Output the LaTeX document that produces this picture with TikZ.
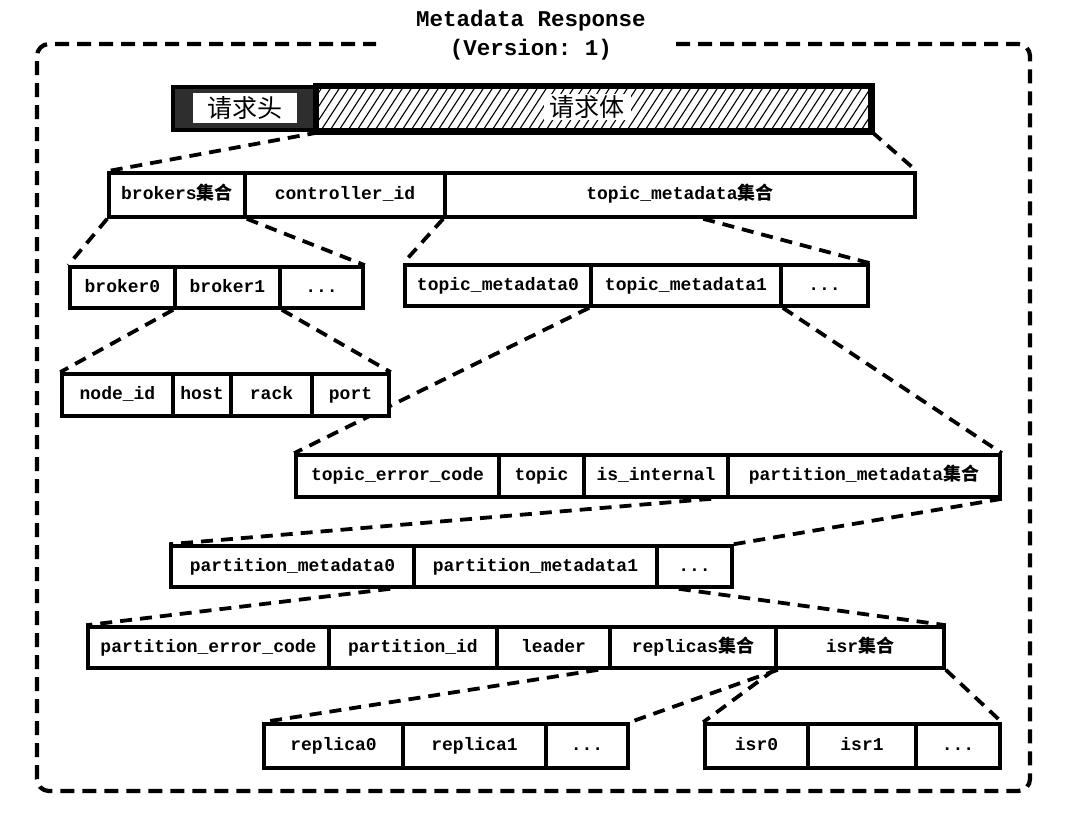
\documentclass[tikz,border=0pt]{standalone}
\usepackage{fontspec}
\setmonofont{Liberation Mono}
\newfontfamily\cjk{Noto Sans CJK SC}
\usetikzlibrary{backgrounds,calc}
\newcommand\zh[1]{{\cjk #1}}
\newcommand\dotsx{{.}{.}{.}}
\begin{document}
\begin{tikzpicture}[x=1pt,y=-1pt,
  cell/.style={draw, line width=3.6pt, fill=white, minimum height=42pt, inner sep=0pt,
    text height=12.5pt, text depth=3.5pt,
    font=\fontsize{18}{20}\selectfont\ttfamily\bfseries},
  link/.style={line width=3.8pt, dash pattern=on 12pt off 8pt},
  frame/.style={line width=4.2pt, dash pattern=on 14pt off 8pt, rounded corners=12pt},
  title/.style={font=\fontsize{22.5}{26}\selectfont\ttfamily\bfseries, inner sep=0pt}]
\useasboundingbox (0,0) rectangle (1070,812);

% title
\node[title] (t1) at (531,21) {Metadata Response};
\node[title] (t2) at (531,50) {(Version: 1)};

% outer frame
\draw[frame] (676,44) -- (1030,44) -- (1030,791) -- (37,791) -- (37,44) -- (376,44);

% top bar
\node[draw, line width=4.5pt, fill=black!82, minimum width=144pt, minimum height=43pt, inner sep=0pt] (hdr) at (245,108.5) {};
\node[fill=white, minimum width=104pt, minimum height=30pt, inner sep=0pt, font=\fontsize{25}{28}\selectfont\cjk] (hdrin) at (245,108) {请求头};
\node[draw, line width=4.5pt, minimum width=553pt, minimum height=43pt, inner sep=0pt] (body) at (593.5,108.5) {};
\begin{scope}
  \clip (body.north west) rectangle (body.south east);
  \foreach \i in {-40,-31,...,600}
    \draw[line width=1.1pt] ($(body.south west)+(\i,0)$) -- ++(30,-46);
\end{scope}
\draw[line width=4.5pt] (body.north west) rectangle (body.south east);
\node[fill=white, inner xsep=6pt, inner ysep=1pt, font=\fontsize{25}{28}\selectfont\cjk] (bodytxt) at (587,107) {请求体};

% row 2
\node[cell, minimum width=136pt, minimum height=44pt] (brokers) at (177,195) {brokers\zh{集合}};
\node[cell, minimum width=200pt, minimum height=44pt] (ctrl) at (345,195) {controller\_id};
\node[cell, minimum width=470pt, minimum height=44pt] (tmset) at (680,195) {topic\_metadata\zh{集合}};

% row 3 left
\node[cell, minimum width=105pt, minimum height=41pt] (b0) at (122.5,287.5) {broker0};
\node[cell, minimum width=105pt, minimum height=41pt] (b1) at (227.5,287.5) {broker1};
\node[cell, minimum width=83pt, minimum height=41pt] (bdots) at (321.5,287.5) {\dotsx};

% row 3 right
\node[cell, minimum width=186pt, minimum height=41pt] (tm0) at (498,285.5) {topic\_metadata0};
\node[cell, minimum width=190pt, minimum height=41pt] (tm1) at (686,285.5) {topic\_metadata1};
\node[cell, minimum width=87pt, minimum height=41pt] (tmdots) at (824.5,285.5) {\dotsx};

% row 4
\node[cell, minimum width=111pt] (nid) at (117.5,395) {node\_id};
\node[cell, minimum width=58pt] (host) at (202,395) {host};
\node[cell, minimum width=81pt] (rack) at (271.5,395) {rack};
\node[cell, minimum width=77pt] (port) at (350.5,395) {port};

% row 5
\node[cell, minimum width=203pt] (tec) at (397.5,476) {topic\_error\_code};
\node[cell, minimum width=85pt] (topic) at (541.5,476) {topic};
\node[cell, minimum width=144pt] (isint) at (656,476) {is\_internal};
\node[cell, minimum width=272pt] (pmset) at (864,476) {partition\_metadata\zh{集合}};

% row 6
\node[cell, minimum width=243pt, minimum height=41pt] (pm0) at (292.5,566.5) {partition\_metadata0};
\node[cell, minimum width=243pt, minimum height=41pt] (pm1) at (535.5,566.5) {partition\_metadata1};
\node[cell, minimum width=75pt, minimum height=41pt] (pmdots) at (694.5,566.5) {\dotsx};

% row 7
\node[cell, minimum width=241pt, minimum height=41pt] (pec) at (208.5,647.5) {partition\_error\_code};
\node[cell, minimum width=168pt, minimum height=41pt] (pid) at (413,647.5) {partition\_id};
\node[cell, minimum width=113pt, minimum height=41pt] (leader) at (553.5,647.5) {leader};
\node[cell, minimum width=166pt, minimum height=41pt] (repset) at (693,647.5) {replicas\zh{集合}};
\node[cell, minimum width=168pt, minimum height=41pt] (isrset) at (860,647.5) {isr\zh{集合}};

% row 8
\node[cell, minimum width=139pt, minimum height=44pt] (rep0) at (333.5,746) {replica0};
\node[cell, minimum width=143pt, minimum height=44pt] (rep1) at (474.5,746) {replica1};
\node[cell, minimum width=82pt, minimum height=44pt] (repdots) at (587,746) {\dotsx};
\node[cell, minimum width=103pt, minimum height=44pt] (isr0) at (756.5,746) {isr0};
\node[cell, minimum width=108pt, minimum height=44pt] (isr1) at (862,746) {isr1};
\node[cell, minimum width=84pt, minimum height=44pt] (isrdots) at (958,746) {\dotsx};

% connectors
\begin{scope}[on background layer]
\draw[link] (hdr.south east) -- (brokers.north west);
\draw[link] (body.south east) -- (tmset.north east);
\draw[link] (brokers.south west) -- (b0.north west);
\draw[link] (brokers.south east) -- (bdots.north east);
\draw[link] (tmset.south west) -- (tm0.north west);
\draw[link] ([xshift=260pt]tmset.south west) -- (tmdots.north east);
\draw[link] (b1.south west) -- (nid.north west);
\draw[link] (b1.south east) -- (port.north east);
\draw[link] (tm1.south west) -- (tec.north west);
\draw[link] (tm1.south east) -- (pmset.north east);
\draw[link] ([xshift=-15pt]pmset.south west) -- (pm0.north west);
\draw[link] (pmset.south east) -- (pmdots.north east);
\draw[link] ([xshift=-22pt]pm1.south west) -- (pec.north west);
\draw[link] ([xshift=20pt]pm1.south east) -- (isrset.north east);
\draw[link] ([xshift=-10pt]repset.south west) -- (rep0.north west);
\draw[link] (repset.south east) -- (repdots.north east);
\draw[link] (isrset.south west) -- (isr0.north west);
\draw[link] (isrset.south east) -- (isrdots.north east);
\end{scope}
\end{tikzpicture}
\end{document}
